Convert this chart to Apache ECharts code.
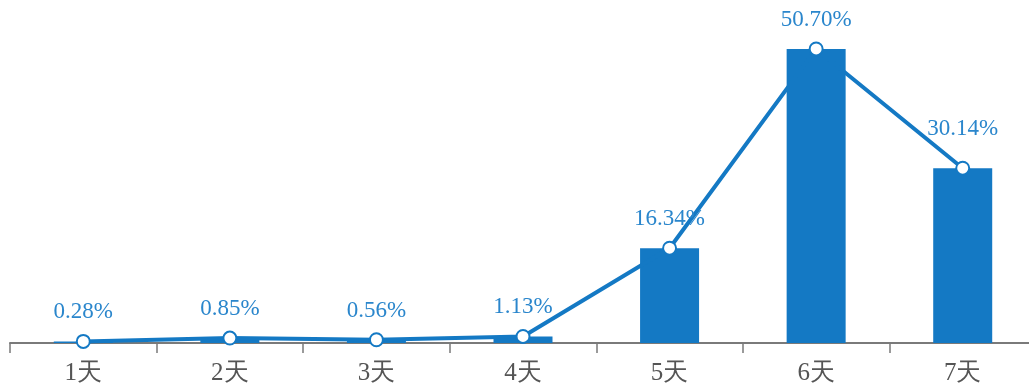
<!DOCTYPE html>
<html>
<head>
<meta charset="utf-8">
<script src="https://cdn.jsdelivr.net/npm/echarts@6/dist/echarts.min.js"></script>
<style>
  html, body { margin: 0; padding: 0; background: #fff; }
  #chart { width: 1029px; height: 385px; }
</style>
</head>
<body>
<div id="chart"></div>
<script>
  var categories = ['1天', '2天', '3天', '4天', '5天', '6天', '7天']
  var shares = [0.28, 0.85, 0.56, 1.13, 16.34, 50.70, 30.14]

  var blue = '#1479c4'
  var chart = echarts.init(document.getElementById('chart'))
  chart.setOption({
    animation: false,
    grid: { left: 10, right: -7, top: 24, bottom: 42, outerBoundsMode: 'none', containLabel: false },
    xAxis: {
      type: 'category',
      data: categories,
      axisLine: { lineStyle: { color: '#7a7a7a', width: 2 } },
      axisTick: { show: true, alignWithLabel: false, length: 10, lineStyle: { color: '#7a7a7a', width: 1.5 } },
      axisLabel: {
        color: '#555',
        fontFamily: 'Liberation Serif',
        fontSize: 25,
        margin: 18
      }
    },
    yAxis: {
      type: 'value',
      min: 0,
      max: 55,
      show: false,
      splitLine: { show: false }
    },
    series: [
      {
        type: 'bar',
        data: shares,
        barWidth: 59,
        itemStyle: { color: blue }
      },
      {
        type: 'line',
        data: shares.map(function (v, i) {
          // last label sits a little higher in the original
          return i === 6 ? { value: v, label: { distance: 20 } } : v
        }),
        symbol: 'circle',
        symbolSize: 13,
        lineStyle: { color: blue, width: 4 },
        itemStyle: { color: '#fff', borderColor: blue, borderWidth: 2 },
        label: {
          show: true,
          position: 'top',
          distance: 10,
          color: '#2a86cc',
          fontFamily: 'Liberation Serif',
          fontSize: 23,
          formatter: function (p) { return p.value.toFixed(2) + '%' }
        },
        z: 3
      }
    ]
  })
</script>
</body>
</html>
